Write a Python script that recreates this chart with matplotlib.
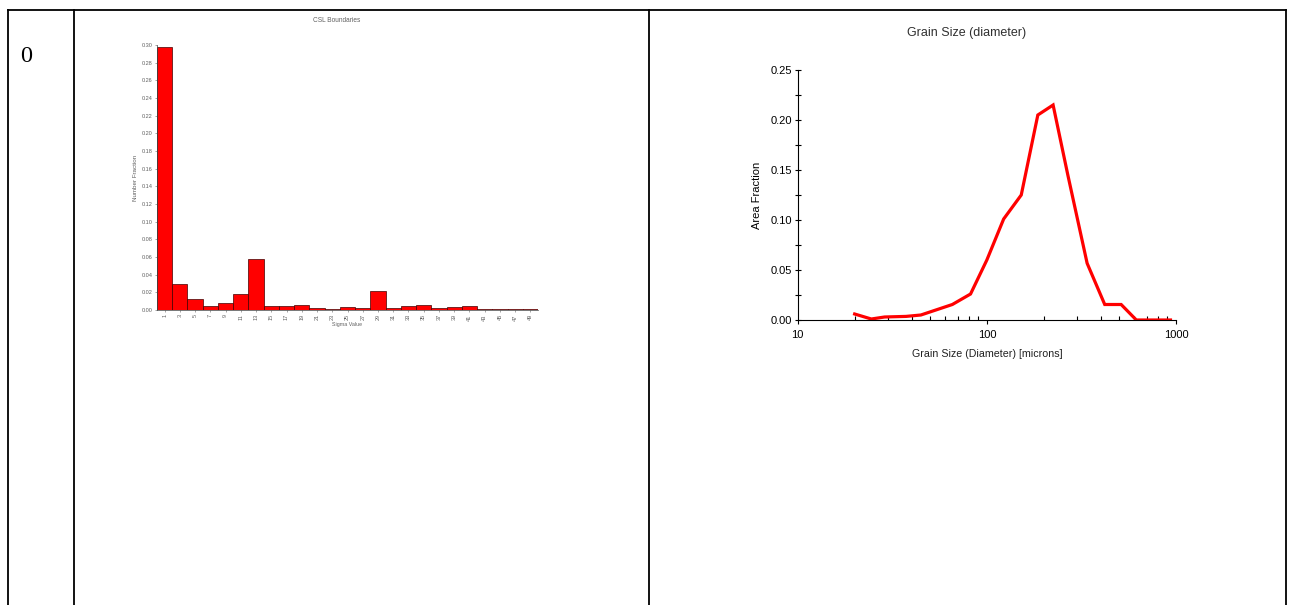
import matplotlib
matplotlib.use('Agg')
import matplotlib.pyplot as plt
from matplotlib.lines import Line2D
from matplotlib.ticker import MultipleLocator, FixedLocator, NullFormatter

W, H = 1289, 605

# CSL boundaries (left chart)
sigma_labels = ['1', '3', '5', '7', '9', '11', '13', '15', '17', '19', '21', '23', '25',
                '27', '29', '31', '33', '35', '37', '39', '41', '43', '45', '47', '49']
number_fraction = [0.298, 0.029, 0.013, 0.005, 0.0075, 0.0185, 0.058, 0.005, 0.005, 0.006,
                   0.0027, 0.0015, 0.0034, 0.0027, 0.0215, 0.002, 0.0045, 0.0055, 0.002,
                   0.0034, 0.004, 0.001, 0.0015, 0.0015, 0.001]

# grain size distribution (right chart)
grain_size = [20, 24.5, 28.8, 37.4, 44.8, 65.7, 82, 100, 122.7, 152, 186, 224, 268, 339,
              420, 513, 617, 935]
area_fraction = [0.006, 0.001, 0.003, 0.0036, 0.005, 0.0155, 0.026, 0.06, 0.101, 0.125,
                 0.205, 0.215, 0.145, 0.0567, 0.0155, 0.0155, 0.0, 0.0]


def box(x0, y0, x1, y1):
    # pixel box -> figure fraction rect
    return [x0 / W, 1 - y1 / H, (x1 - x0) / W, (y1 - y0) / H]


def run():
    fig = plt.figure(figsize=(W / 100, H / 100), dpi=100)
    plt.rcParams['font.family'] = ['Liberation Sans', 'DejaVu Sans']

    # table frame
    lw = 1.3
    fig.add_artist(Line2D([8 / W, 1286 / W], [1 - 9.5 / H, 1 - 9.5 / H], color='black', lw=lw,
                          transform=fig.transFigure))
    for xp in [8, 73.5, 649, 1286]:
        fig.add_artist(Line2D([xp / W, xp / W], [1 - 9.5 / H, 0], color='black', lw=lw,
                              transform=fig.transFigure))
    fig.text(20 / W, 1 - 57 / H, '0', family='Liberation Serif', fontsize=17.5,
             va='center', ha='left')

    # left: CSL Boundaries
    gray = '#606060'
    ax1 = fig.add_axes(box(157, 45, 538, 310))
    pos = list(range(len(sigma_labels)))
    ax1.bar(pos, number_fraction, width=1.0, color='#ff0000', edgecolor='#400000', linewidth=0.5)
    ax1.set_xlim(-0.5, len(sigma_labels) - 0.5)
    ax1.set_ylim(0, 0.30)
    ax1.set_yticks([i * 0.02 for i in range(16)])
    ax1.set_yticklabels(['%.2f' % (i * 0.02) for i in range(16)])
    ax1.set_xticks(pos)
    ax1.set_xticklabels(sigma_labels, rotation=90)
    ax1.tick_params(labelsize=4, colors=gray, length=1.5, width=0.4, pad=1.5)
    for s in ['top', 'right']:
        ax1.spines[s].set_visible(False)
    for s in ['left', 'bottom']:
        ax1.spines[s].set_linewidth(0.5)
        ax1.spines[s].set_color('#404040')
    ax1.set_ylabel('Number Fraction', fontsize=4.5, color=gray, labelpad=3)
    ax1.set_xlabel('Sigma Value', fontsize=3.8, color=gray, labelpad=1)
    fig.text(337 / W, 1 - 20 / H, 'CSL Boundaries', fontsize=4.7, color=gray,
             ha='center', va='center')

    # right: Grain Size
    ax2 = fig.add_axes(box(797.7, 70, 1176, 320))
    ax2.plot(grain_size, area_fraction, color='#ff0000', lw=2.3, solid_joinstyle='miter')
    ax2.set_xscale('log')
    ax2.set_xlim(10, 1000)
    ax2.set_ylim(0, 0.25)
    ax2.set_xticks([10, 100, 1000])
    ax2.set_xticklabels(['10', '100', '1000'])
    ax2.xaxis.set_minor_locator(FixedLocator([m * d for d in [10, 100] for m in range(2, 10)]))
    ax2.xaxis.set_minor_formatter(NullFormatter())
    ax2.yaxis.set_major_locator(MultipleLocator(0.05))
    ax2.yaxis.set_minor_locator(MultipleLocator(0.025))
    ax2.yaxis.set_major_formatter(matplotlib.ticker.FormatStrFormatter('%.2f'))
    ax2.tick_params(axis='y', which='both', direction='inout', length=4, width=0.8, labelsize=8, pad=2)
    ax2.tick_params(axis='x', which='major', direction='out', length=3, width=0.8, labelsize=8, pad=4)
    ax2.tick_params(axis='x', which='minor', direction='in', length=3, width=0.8)
    for s in ['top', 'right']:
        ax2.spines[s].set_visible(False)
    for s in ['left', 'bottom']:
        ax2.spines[s].set_linewidth(0.8)
    ax2.set_ylabel('Area Fraction', fontsize=8, labelpad=6)
    ax2.set_xlabel('Grain Size (Diameter) [microns]', fontsize=7.7, color='#202020', labelpad=7)
    fig.text(967 / W, 1 - 33 / H, 'Grain Size (diameter)', fontsize=9, color='#303030',
             ha='center', va='center')

    fig.savefig('out.png', dpi=100)


if __name__ == '__main__':
    run()
